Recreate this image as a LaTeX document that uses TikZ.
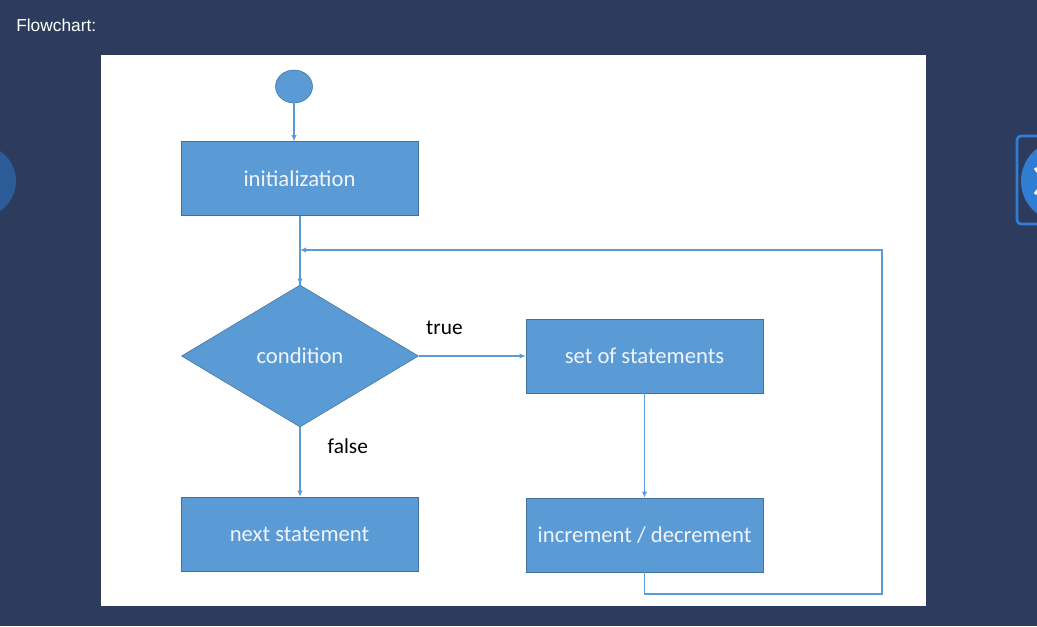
\documentclass[tikz,border=0pt]{standalone}
\usepackage{fontspec}
\setmainfont{Carlito}
\newfontfamily\uifont{Liberation Sans}
\usetikzlibrary{arrows.meta}
\usetikzlibrary{shapes.geometric}
\definecolor{pagebg}{RGB}{45,60,92}
\definecolor{boxfill}{RGB}{91,155,213}
\definecolor{boxline}{RGB}{65,113,156}
\definecolor{boxtext}{RGB}{240,244,250}
\definecolor{navbtn}{RGB}{44,92,152}
\definecolor{navblue}{RGB}{50,125,212}

\begin{document}
\begin{tikzpicture}[x=0.75pt,y=-0.75pt,>={Latex[length=4.5pt,width=4pt]},
  box/.style={rectangle,draw=boxline,fill=boxfill,text=boxtext,minimum width=177.75pt,minimum height=55.5pt,inner sep=0pt,font=\fontsize{17}{18}\selectfont},
  test/.style={diamond,draw=boxline,fill=boxfill,text=boxtext,minimum width=177.75pt,minimum height=106.5pt,inner sep=0pt,font=\fontsize{17}{18}\selectfont},
  flow/.style={draw=boxfill,line width=0.9pt},
  lbl/.style={font=\fontsize{16}{18}\selectfont,text=black}]
\useasboundingbox (0,0) rectangle (1037,626);
\clip (0,0) rectangle (1037,626);
\fill[pagebg] (0,0) rectangle (1037,626);
\node[text=white,anchor=west,inner sep=0pt,font=\uifont\fontsize{13}{14}\selectfont] (title) at (16,25) {Flowchart:};
% side buttons
\fill[navbtn] (-20,181) circle (36);
\draw[navblue,line width=2pt,rounded corners=3pt] (1017,136) rectangle (1060,224);
\fill[navblue] (1062,181) circle (41);
\draw[white,line width=2.2pt] (1035,168) -- (1045,181) -- (1035,194);
% panel
\fill[white] (101,55) rectangle (926,606);

\node[ellipse,draw=boxline,fill=boxfill,minimum width=27.75pt,minimum height=24.75pt,inner sep=0pt](0) at (294,86.5) {};
\node[box](1) at (299.5,178.5) {initialization};
\node[test](2) at (300,356) {condition};
\node[box](3) at (644.5,356) {set of statements};
\node[box](4) at (644.5,535) {increment / decrement};
\node[box](5) at (299.5,534) {next statement};
\coordinate (j) at (300,250);
\coordinate (c) at (882,594);

\draw[flow,->] (0) -- (0.south |- 1.north);
\draw[flow] (1.south -| 2.north) -- (2.north);
\draw[flow,->] (j) -- (2.north);
\draw[flow,->] (2) -- node[lbl,above,pos=.24,yshift=12pt]{true} (3);
\draw[flow,->] (2.south) -- node[lbl,right,pos=.27,xshift=17pt]{false} (2.south |- 5.north);
\draw[flow,->] (3.south) -- (4.north);
\draw[flow,->] (4.south) |- (c) |- (j);
\end{tikzpicture}
\end{document}
